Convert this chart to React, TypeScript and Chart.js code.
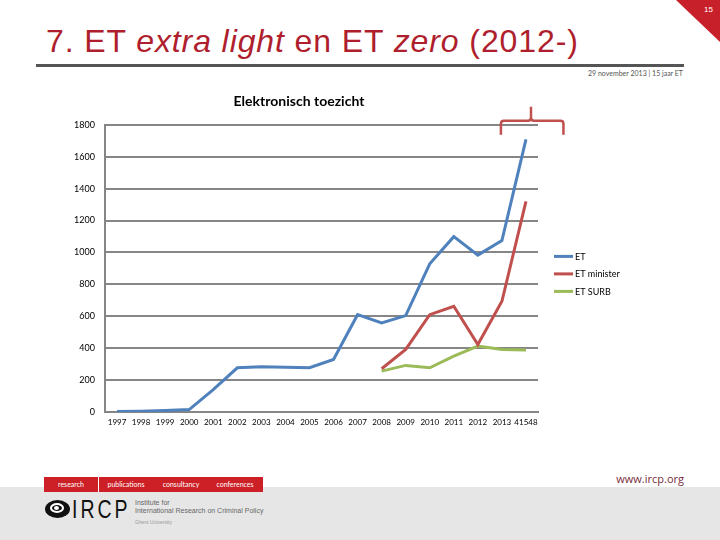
import React, { useEffect, useRef } from "react";
import { Chart, registerables } from "chart.js";

Chart.register(...registerables);

const categories = ["1997", "1998", "1999", "2000", "2001", "2002", "2003", "2004", "2005", "2006", "2007", "2008", "2009", "2010", "2011", "2012", "2013", "41548"];
const etValues = [3, 5, 10, 15, 140, 277, 283, 280, 278, 329, 610, 558, 604, 929, 1099, 983, 1074, 1709];
const etMinisterValues = [null, null, null, null, null, null, null, null, null, null, null, 271, 392, 610, 663, 423, 694, 1320];
const etSurbValues = [null, null, null, null, null, null, null, null, null, null, null, 256, 292, 277, 350, 413, 392, 388];
const seriesLabels = ["ET", "ET minister", "ET SURB"];
const seriesColors = ["#4F81BD", "#C0504D", "#9BBB59"];
const yMin = 0;
const yMax = 1800;
const yStep = 200;

const FONT = "Lato, 'Open Sans', sans-serif";

const extrasPlugin = {
  id: "extras",
  afterDraw(chart: any) {
    const { ctx, chartArea, scales } = chart;
    ctx.save();
    // legend
    const mid = (chartArea.top + chartArea.bottom) / 2;
    chart.data.datasets.forEach((ds: any, i: number) => {
      const y = mid - 12 + i * 17.5;
      const x0 = chartArea.right + 16;
      ctx.strokeStyle = ds.borderColor;
      ctx.lineWidth = 3;
      ctx.beginPath();
      ctx.moveTo(x0, y);
      ctx.lineTo(x0 + 19, y);
      ctx.stroke();
      ctx.fillStyle = "#000";
      ctx.font = `9px ${FONT}`;
      ctx.textBaseline = "middle";
      ctx.textAlign = "left";
      ctx.fillText(ds.label, x0 + 21, y + 0.5);
    });
    // brace over the last points
    const xs = scales.x;
    const n = categories.length;
    const step = xs.getPixelForValue(n - 1) - xs.getPixelForValue(n - 2);
    const L = xs.getPixelForValue(n - 2) - 1;
    const C = L + step * 1.25;
    const R = L + step * 2.6;
    const t = chartArea.top;
    const h = t - 4;
    const r = 3;
    ctx.strokeStyle = "#C0504D";
    ctx.lineWidth = 2.5;
    ctx.lineJoin = "round";
    ctx.beginPath();
    ctx.moveTo(L, t + 10);
    ctx.lineTo(L, h + r);
    ctx.quadraticCurveTo(L, h, L + r, h);
    ctx.lineTo(C - r, h);
    ctx.quadraticCurveTo(C, h, C, h - r);
    ctx.lineTo(C, t - 18);
    ctx.moveTo(C, h - r);
    ctx.quadraticCurveTo(C, h, C + r, h);
    ctx.lineTo(R - r, h);
    ctx.quadraticCurveTo(R, h, R, h + r);
    ctx.lineTo(R, t + 10);
    ctx.stroke();
    ctx.restore();
  },
};

function ChartBox() {
  const ref = useRef<HTMLCanvasElement | null>(null);
  useEffect(() => {
    if (!ref.current) return;
    const data = [etValues, etMinisterValues, etSurbValues];
    const chart = new Chart(ref.current, {
      type: "line",
      data: {
        labels: categories,
        datasets: data.map((d, i) => ({
          label: seriesLabels[i],
          data: d,
          borderColor: seriesColors[i],
          backgroundColor: seriesColors[i],
          borderWidth: 3,
          pointRadius: 0,
          tension: 0,
          spanGaps: false,
        })),
      },
      options: {
        responsive: false,
        animation: false,
        events: [],
        layout: { padding: { left: 0, right: 102, top: 0, bottom: 0 } },
        plugins: {
          legend: { display: false },
          tooltip: { enabled: false },
          title: {
            display: true,
            text: "Elektronisch toezicht",
            color: "#000",
            font: { family: FONT, size: 14, weight: "bold" },
            padding: { top: 5, bottom: 15 },
          },
        },
        scales: {
          x: {
            offset: true,
            grid: { display: false, drawTicks: false },
            border: { color: "#868686", width: 2 },
            ticks: {
              autoSkip: false,
              maxRotation: 0,
              minRotation: 0,
              padding: 6,
              color: "#000",
              font: { family: FONT, size: 8 },
            },
            afterFit: (s: any) => {
              s.height = 26;
            },
          },
          y: {
            min: yMin,
            max: yMax,
            ticks: {
              stepSize: yStep,
              padding: 10,
              color: "#000",
              font: { family: FONT, size: 9 },
              callback: (v: any) => String(v),
            },
            grid: { color: "#868686", lineWidth: 2, drawTicks: false },
            border: { color: "#868686", width: 2 },
            afterFit: (s: any) => {
              s.width = 45;
            },
          },
        },
      },
      plugins: [extrasPlugin],
    } as any);
    return () => chart.destroy();
  }, []);
  return <canvas ref={ref} width={580} height={350} style={{ width: 580, height: 350, display: "block" }} />;
}

export default function App() {
  const abs = (s: any) => ({ position: "absolute", ...s } as React.CSSProperties);
  return (
    <div style={{ position: "fixed", left: 0, top: 0, width: 720, height: 540, background: "#fff", overflow: "hidden", fontFamily: "'Liberation Sans', Arial, sans-serif" }}>
      {/* corner */}
      <div style={abs({ left: 676, top: 0, width: 44, height: 42, background: "#C8202A", clipPath: "polygon(0 0, 100% 0, 100% 100%)" })} />
      <div style={abs({ left: 704, top: 5, fontSize: 8, color: "#fff" })}>15</div>
      {/* title */}
      <div style={abs({ left: 46, top: 25, fontSize: 32, lineHeight: "32px", color: "#AF1E2D", whiteSpace: "nowrap", letterSpacing: 0.9, fontFamily: "'Liberation Sans', Arial, sans-serif" })}>
        7. ET <i>extra light</i> en ET <i>zero</i> (2012-)
      </div>
      <div style={abs({ left: 36, top: 64, width: 648, height: 3, background: "#555" })} />
      <div style={abs({ left: 480, width: 203, top: 68, fontSize: 7, lineHeight: "10px", textAlign: "right", color: "#555", fontFamily: FONT })}>
        29 november 2013 | 15 jaar ET
      </div>
      {/* chart */}
      <div style={abs({ left: 60, top: 88 })}>
        <ChartBox />
      </div>
      {/* footer */}
      <div style={abs({ left: 0, top: 487, width: 720, height: 53, background: "#e6e6e6" })} />
      <div style={abs({ left: 44, top: 477, width: 219, height: 15, background: "#CC1F26" })} />
      <div style={abs({ left: 98, top: 477, width: 1, height: 15, background: "#fff" })} />
      {[
        ["research", 44, 54],
        ["publications", 101, 50],
        ["consultancy", 156, 50],
        ["conferences", 210, 50],
      ].map(([t, l, w]: any) => (
        <div key={t} style={abs({ left: l, width: w, top: 477, height: 15, lineHeight: "15px", fontSize: 7, color: "#fff", textAlign: "center", fontFamily: FONT })}>
          {t}
        </div>
      ))}
      <div style={abs({ left: 45, top: 500, width: 25, height: 18, borderRadius: "50%", background: "#111" })} />
      <div style={abs({ left: 50, top: 503, width: 14, height: 10, borderRadius: "50%", border: "2px solid #fff", boxSizing: "border-box" })} />
      <div style={abs({ left: 54, top: 506, width: 5, height: 4, borderRadius: "50%", background: "#fff" })} />
      <div style={abs({ left: 72, top: 496, fontSize: 26, lineHeight: "26px", color: "#111", letterSpacing: 4, transform: "scaleX(0.75)", transformOrigin: "left top" })}>
        IRCP
      </div>
      <div style={abs({ left: 135, top: 499, fontSize: 7, lineHeight: "8px", color: "#666" })}>
        Institute for
        <br />
        International Research on Criminal Policy
      </div>
      <div style={abs({ left: 135, top: 519, fontSize: 5, lineHeight: "6px", color: "#999" })}>Ghent University</div>
      <div style={abs({ left: 612, width: 72, top: 472, fontSize: 11, lineHeight: "14px", textAlign: "right", color: "#7A2B3B", fontFamily: "'Open Sans', sans-serif" })}>
        www.ircp.org
      </div>
    </div>
  );
}
